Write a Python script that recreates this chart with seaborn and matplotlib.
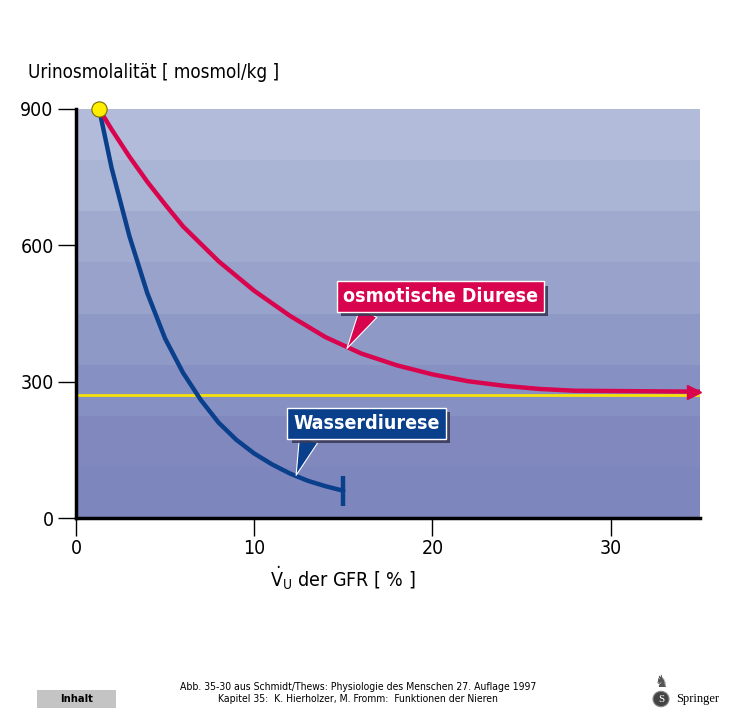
import numpy as np
import pandas as pd
import seaborn as sns
import matplotlib.pyplot as plt
import matplotlib.patheffects as pe
from matplotlib.patches import Rectangle, Circle

# Curve readings (x = V_U in % of GFR, y = urine osmolality in mosmol/kg)
water_x = [1.3, 2, 3, 4, 5, 6, 7, 8, 9, 10, 11, 12, 13, 14, 15]
water_y = [900, 770, 620, 495, 395, 320, 260, 210, 172, 142, 118, 98, 82, 70, 60]
osmo_x = [1.3, 2, 3, 4, 5, 6, 8, 10, 12, 14, 16, 18, 20, 22, 24, 26, 28, 35]
osmo_y = [900, 855, 795, 740, 690, 642, 565, 500, 445, 398, 362, 336, 316, 301, 291, 284, 280, 278]
plasma_osm = 270
start_point = (1.3, 900)

x_ticks = [0, 10, 20, 30]
y_ticks = [0, 300, 600, 900]

df = pd.concat([
    pd.DataFrame({'x': water_x, 'y': water_y, 'kurve': 'Wasserdiurese'}),
    pd.DataFrame({'x': osmo_x, 'y': osmo_y, 'kurve': 'osmotische Diurese'}),
])

sns.set_style('white')
plt.rcParams['font.family'] = ['DejaVu Sans']
plt.rcParams['font.stretch'] = 'condensed'
plt.rcParams['text.color'] = 'black'
plt.rcParams['axes.labelcolor'] = 'black'
plt.rcParams['mathtext.fontset'] = 'dejavusans'

fig = plt.figure(figsize=(7.39, 7.10), dpi=100)
ax = fig.add_axes([0.1028, 0.2704, 0.8442, 0.5761])

# banded background, light at the top, darker at the bottom
band_colors = ['#7d86bd', '#8088be', '#8790c2', '#8f99c6', '#98a2ca', '#a0aacf', '#aab4d5', '#b2bcda']
edges = np.linspace(0, 900, len(band_colors) + 1)
for i, c in enumerate(band_colors):
    ax.axhspan(edges[i], edges[i + 1], color=c, lw=0, zorder=0)

ax.axhline(plasma_osm, color='#f5e20a', lw=2, zorder=1)

red = '#d8054e'
blue = '#0a3f8c'
sns.lineplot(data=df, x='x', y='y', hue='kurve', palette={'Wasserdiurese': blue, 'osmotische Diurese': red},
             estimator=None, sort=False, lw=3.2, legend=False, ax=ax, zorder=3)

# end marks
ax.plot(water_x[-1], water_y[-1], marker='|', ms=22, mew=3.2, color=blue, zorder=3)
ax.plot(osmo_x[-1] - 0.3, osmo_y[-1], marker='>', ms=10, color=red, mec=red, zorder=3, clip_on=False)
ax.plot(*start_point, marker='o', ms=11, mfc='#ffee00', mec='#7a6a00', mew=0.8, zorder=5, clip_on=False)

ax.set_xlim(0, 35)
ax.set_ylim(0, 900)
ax.set_xticks(x_ticks)
ax.set_yticks(y_ticks)
ax.tick_params(axis='both', bottom=True, left=True, direction='out', length=13, width=1,
               labelsize=14, colors='black', labelcolor='black', pad=3)
ax.tick_params(axis='x', pad=2)
for s in ['top', 'right']:
    ax.spines[s].set_visible(False)
for s in ['left', 'bottom']:
    ax.spines[s].set_linewidth(2.5)
    ax.spines[s].set_color('black')
ax.set_xlabel(r'$\dot{\mathrm{V}}_{\mathrm{U}}$ der GFR [ % ]', fontsize=14, color='black', va='center')
ax.xaxis.set_label_coords(0.428, -0.146)
ax.set_ylabel('')
fig.text(0.038, 0.885, 'Urinosmolalität [ mosmol/kg ]', fontsize=13.5, ha='left', va='bottom', color='black')

shadow = [pe.SimplePatchShadow(offset=(3, -3), shadow_rgbFace='#3a3a5a', alpha=0.9), pe.Normal()]

t1 = ax.annotate('osmotische Diurese', xy=(15.2, 373), xytext=(20.45, 487), fontsize=14, fontweight='bold',
                 color='white', ha='center', va='center', zorder=6,
                 bbox=dict(boxstyle='square,pad=0.3', fc=red, ec='white', lw=1),
                 arrowprops=dict(arrowstyle='wedge,tail_width=1.0,shrink_factor=0.5', fc=red, ec='white', lw=0.8,
                                 relpos=(0.15, 0.0), shrinkA=0, shrinkB=0))
t2 = ax.annotate('Wasserdiurese', xy=(12.35, 94), xytext=(16.3, 208), fontsize=14, fontweight='bold',
                 color='white', ha='center', va='center', zorder=6,
                 bbox=dict(boxstyle='square,pad=0.3', fc=blue, ec='white', lw=1),
                 arrowprops=dict(arrowstyle='wedge,tail_width=1.0,shrink_factor=0.5', fc=blue, ec='white', lw=0.8,
                                 relpos=(0.12, 0.0), shrinkA=0, shrinkB=0))
for t in (t1, t2):
    t.get_bbox_patch().set_path_effects(shadow)

# footer
fig.add_artist(Rectangle((37 / 739, 2 / 710), 79 / 739, 18 / 710, transform=fig.transFigure,
                         fc='#c4c4c4', ec='none'))
fig.text(76.5 / 739, 11 / 710, 'Inhalt', fontsize=8, fontweight='bold', ha='center', va='center')
fig.text(0.485, 0.024, 'Abb. 35-30 aus Schmidt/Thews: Physiologie des Menschen 27. Auflage 1997\n'
         'Kapitel 35:  K. Hierholzer, M. Fromm:  Funktionen der Nieren',
         fontsize=7.5, ha='center', va='center', linespacing=1.15)
fig.text(676 / 739, 11 / 710, 'Springer', fontsize=9, family='Liberation Serif', ha='left', va='center')
fig.add_artist(Circle((661 / 739, 11 / 710), 8 / 739, transform=fig.transFigure,
                      fc='#444444', ec='#888888', lw=0.8))
fig.text(661 / 739, 11 / 710, 'S', fontsize=8, family='Liberation Serif', color='white', ha='center', va='center')
fig.text(661 / 739, 28 / 710, '\u265e', fontsize=12, ha='center', va='center', color='#555555')

fig.savefig('out.png', dpi=100, facecolor='white')
